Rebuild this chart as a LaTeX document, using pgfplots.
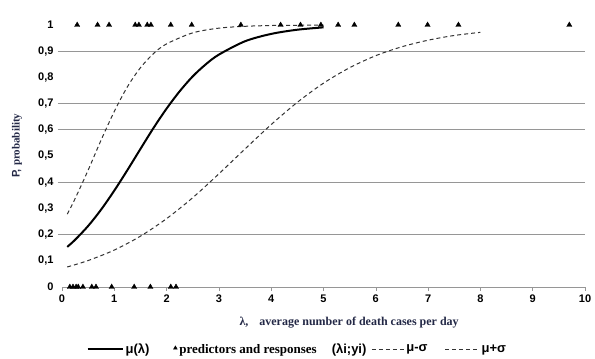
\documentclass[border=0pt]{standalone}
\usepackage{fontspec}
\setmainfont{Liberation Sans}
\newfontfamily\serifb{Liberation Serif}
\usepackage{pgfplots}
\pgfplotsset{compat=1.18}
\definecolor{labnavy}{RGB}{35,40,70}
\definecolor{gridg}{RGB}{150,150,150}
\pgfplotsset{
  solidleg/.style={legend image code/.code={\draw[##1] (0pt,0pt) -- (35pt,0pt);}},
  dashleg/.style={legend image code/.code={\draw[##1] (0pt,0pt) -- (32pt,0pt);}},
  markleg/.style={legend image code/.code={\draw[##1, mark size=2.2pt] plot coordinates {(2pt,1pt)};}},
}
\begin{document}
\begin{tikzpicture}
\useasboundingbox (0,0) rectangle (595pt,359pt);
\begin{axis}[
  at={(62pt,72pt)}, anchor=south west, scale only axis,
  width=523pt, height=262pt,
  xmin=0, xmax=10, ymin=0, ymax=1,
  axis x line*=bottom, axis y line*=left,
  y axis line style={draw=none},
  x axis line style={draw=gridg, line width=0.8pt, -},
  xtick={0,1,2,3,4,5,6,7,8,9,10},
  ytick={0,0.1,0.2,0.3,0.4,0.5,0.6,0.7,0.8,0.9,1},
  xtick style={draw=gridg, line width=0.6pt},
  ytick style={draw=none},
  tick align=outside, major tick length=4pt,
  extra y ticks={0.2,0.4,0.6,0.7,0.9},
  extra y tick labels={},
  extra y tick style={grid=major, ytick style={draw=gridg, line width=0.8pt}},
  grid style={draw=gridg, line width=0.8pt},
  /pgf/number format/assume math mode=true,
  /pgf/number format/use comma,
  xticklabel style={font=\fontsize{11}{13}\selectfont\bfseries, text=black},
  yticklabel style={font=\fontsize{11}{13}\selectfont\bfseries, text=black, xshift=-1pt},
  xlabel={\fontsize{12}{14}\selectfont\bfseries\serifb λ,\hspace{11pt}average number of death cases per day},
  xlabel style={at={(axis description cs:0.549,-0.134)}, anchor=center, text=labnavy},
  ylabel={\bfseries\fontsize{11}{13}\selectfont P,\ {\serifb probability}},
  ylabel style={at={(axis description cs:-0.086,0.539)}, anchor=center, text=labnavy},
  clip=false,
  legend style={at={(axis description cs:0.450,-0.237)}, anchor=center, draw=none, fill=none,
    legend columns=4, font=\bfseries\fontsize{13}{15}\selectfont,
    /tikz/column 2/.style={column sep=22pt},
    /tikz/column 4/.style={column sep=3pt},
    /tikz/column 6/.style={column sep=15pt},
    legend cell align=left, inner sep=0pt},
]
\addplot[black, line width=2pt, smooth, solidleg]
coordinates {
(0.1,0.153)(0.25,0.180)(0.5,0.233)(0.75,0.296)(1.0,0.368)(1.25,0.446)(1.5,0.527)
(1.75,0.607)(2.0,0.681)(2.25,0.747)(2.5,0.804)(2.75,0.850)(3.0,0.887)(3.5,0.938)
(4.0,0.966)(4.5,0.982)(5.0,0.991)};
\addlegendentry{μ(λ)}
\addplot[only marks, mark=triangle*, mark size=3pt, black, markleg]
coordinates {
(0.29,1)(0.68,1)(0.90,1)(1.40,1)(1.47,1)(1.63,1)(1.70,1)(2.08,1)(2.48,1)(3.42,1)
(4.18,1)(4.56,1)(4.95,1)(5.28,1)(5.59,1)(6.43,1)(6.99,1)(7.58,1)(9.70,1)
(0.15,0)(0.21,0)(0.27,0)(0.31,0)(0.40,0)(0.57,0)(0.65,0)(0.95,0)(1.38,0)(1.69,0)
(2.08,0)(2.18,0)};
\addlegendentry{{\serifb predictors and responses}\hspace{15pt}(λi;yi)}
\addplot[black!80, line width=1pt, dash pattern=on 4pt off 3pt, smooth, dashleg]
coordinates {
(0.1,0.0764)(0.5,0.101)(1.0,0.141)(1.5,0.194)(2.0,0.261)(2.5,0.341)(3.0,0.432)
(3.5,0.527)(4.0,0.620)(4.5,0.705)(5.0,0.778)(5.5,0.837)(6.0,0.883)(6.5,0.917)
(7.0,0.942)(7.5,0.960)(8.0,0.972)};
\addlegendentry{μ-σ}
\addplot[black!80, line width=1pt, dash pattern=on 4pt off 3pt, smooth, dashleg]
coordinates {
(0.1,0.278)(0.25,0.337)(0.5,0.446)(0.75,0.562)(1.0,0.670)(1.25,0.764)(1.5,0.837)
(1.75,0.891)(2.0,0.928)(2.5,0.970)(3.0,0.988)(3.5,0.995)(4.0,0.998)(4.5,0.999)(5.0,0.9996)};
\addlegendentry{\hspace{2pt}μ+σ}
\end{axis}
\end{tikzpicture}
\end{document}
